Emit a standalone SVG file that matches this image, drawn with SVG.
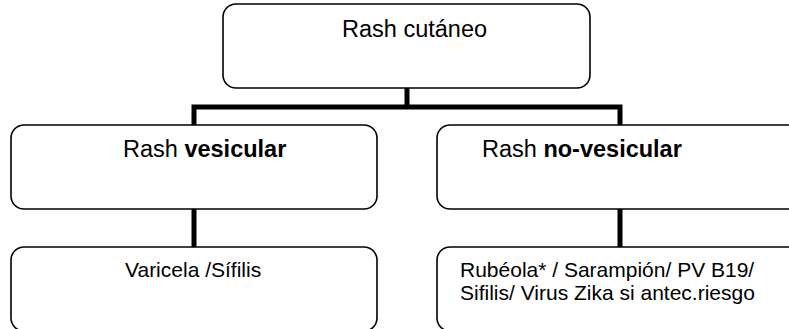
<svg xmlns="http://www.w3.org/2000/svg" width="789" height="329" viewBox="0 0 789 329">
  <style>
    .box { fill: #ffffff; stroke: #000000; stroke-width: 1.6; }
    .link { fill: none; stroke: #000000; stroke-width: 5; stroke-linejoin: miter; stroke-linecap: butt; }
    .label { font-family: "Liberation Sans", Arial, sans-serif; font-size: 21px; fill: #000000; }
    .head { font-size: 23.5px; }
    .strong { font-weight: bold; }
  </style>
  <rect width="789" height="329" fill="#ffffff"/>

  <!-- connectors -->
  <g id="connectors">
    <path class="link" d="M407,88 V107"/>
    <path class="link" d="M194,125 V107 H620 V125"/>
    <path class="link" d="M194,209 V247"/>
    <path class="link" d="M620,209 V247"/>
  </g>

  <g id="rash-cutaneo">
    <rect class="box" x="223" y="4" width="367" height="84" rx="13" ry="13"/>
    <text class="label head" x="342" y="37">Rash cutáneo</text>
  </g>

  <g id="rash-vesicular">
    <rect class="box" x="11" y="125" width="366" height="84" rx="13" ry="13"/>
    <text class="label head" x="123" y="157">Rash <tspan class="strong">vesicular</tspan></text>
  </g>

  <g id="rash-no-vesicular">
    <rect class="box" x="437" y="125" width="366" height="84" rx="13" ry="13"/>
    <text class="label head" x="482" y="157">Rash <tspan class="strong">no-vesicular</tspan></text>
  </g>

  <g id="varicela-sifilis">
    <rect class="box" x="11" y="247" width="366" height="84" rx="13" ry="13"/>
    <text class="label" x="125" y="277">Varicela /Sífilis</text>
  </g>

  <g id="rubeola-etc">
    <rect class="box" x="437" y="247" width="366" height="84" rx="13" ry="13"/>
    <text class="label" x="460" y="277">Rubéola* / Sarampión/ PV B19/</text>
    <text class="label" x="460" y="300">Sifilis/ Virus Zika si antec.riesgo</text>
  </g>
</svg>
